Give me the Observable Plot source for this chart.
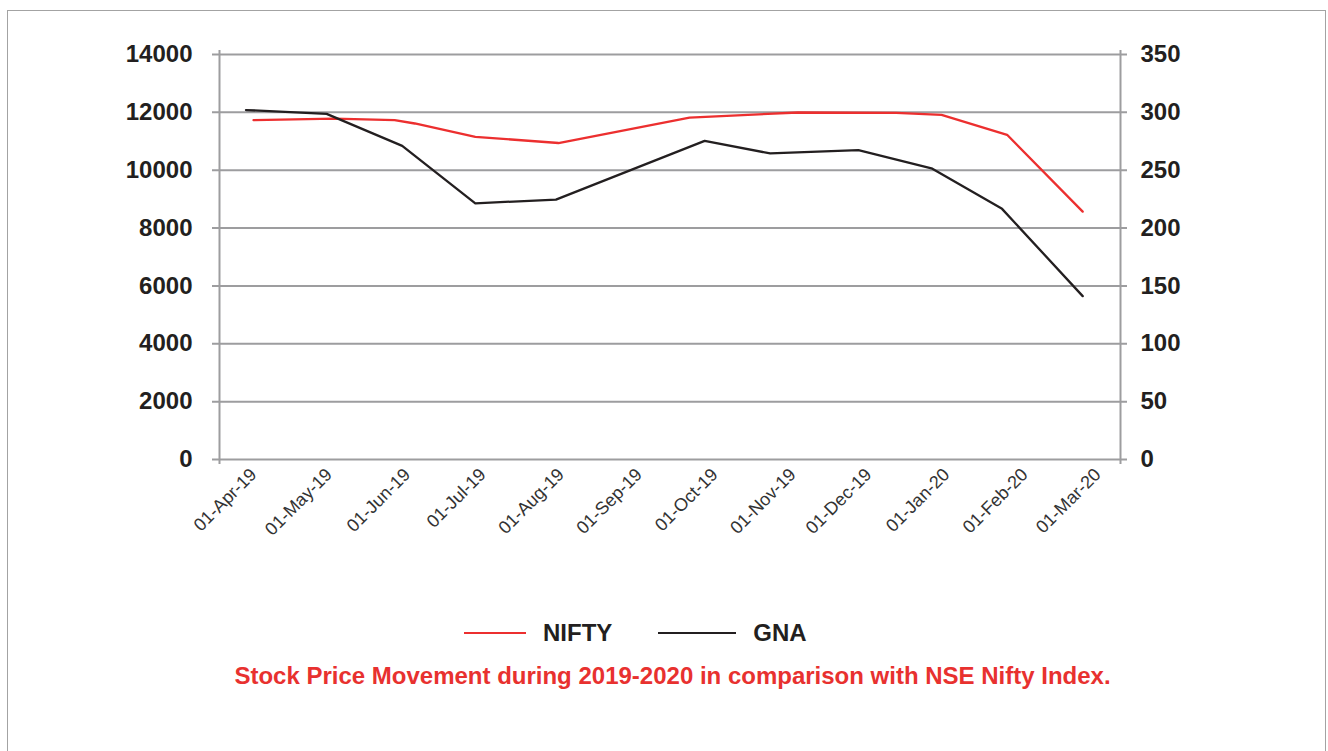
<!DOCTYPE html>
<html>
<head>
<meta charset="utf-8">
<script src="https://cdn.jsdelivr.net/npm/d3@7"></script>
<script src="https://cdn.jsdelivr.net/npm/@observablehq/plot@0.6"></script>
<style>
  html, body { margin: 0; padding: 0; background: #fff; }
  #wrap { position: relative; width: 1328px; height: 751px; overflow: hidden; background: #fff; font-family: "Liberation Sans", Arial, sans-serif; }
  #frame { position: absolute; left: 7px; top: 10px; width: 1319px; height: 800px; border: 1.5px solid #a3a3a3; box-sizing: border-box; }
  #chart { position: absolute; left: 0; top: 0; }
  #legend { position: absolute; left: 464px; top: 620px; height: 26px; display: flex; align-items: center; }
  .item { display: flex; align-items: center; }
  .swatch { height: 2.5px; }
  .lab { font-weight: bold; font-size: 24px; color: #231f20; }
  #caption { position: absolute; left: 0; width: 1345px; top: 662px; text-align: center; font-weight: bold; font-size: 24px; color: #e8312f; }
</style>
</head>
<body>
<div id="wrap">
  <div id="frame"></div>
  <div id="chart"></div>
  <div id="legend"></div>
  <div id="caption">Stock Price Movement during 2019-2020 in comparison with NSE Nifty Index.</div>
</div>
<script>
// ---- data ----
const niftyDates = ["2019-04-01","2019-05-03","2019-05-27","2019-06-04","2019-06-28","2019-07-31","2019-09-21","2019-11-03","2019-12-12","2019-12-30","2020-01-25","2020-02-24"];
const niftyValues = [11730, 11785, 11730, 11615, 11155, 10940, 11820, 11995, 11985, 11915, 11225, 8570];

const gnaDates = ["2019-03-29","2019-04-30","2019-05-30","2019-06-28","2019-07-30","2019-09-27","2019-10-23","2019-11-27","2019-12-26","2020-01-23","2020-02-24"];
const gnaValues = [302, 298.7, 271, 221.4, 224.6, 275.4, 264.5, 267.4, 251.6, 216.6, 141.2];

const monthTicks = ["2019-04-01","2019-05-01","2019-06-01","2019-07-01","2019-08-01","2019-09-01","2019-10-01","2019-11-01","2019-12-01","2020-01-01","2020-02-01","2020-03-01"];
const leftTicks = [0, 2000, 4000, 6000, 8000, 10000, 12000, 14000];
const rightTicks = [0, 50, 100, 150, 200, 250, 300, 350];

const seriesNames = ["NIFTY", "GNA"];
const seriesColors = ["#ec2f2f", "#231f20"];
const swatchWidths = [62, 78];

// ---- build ----
const ratio = 14000 / 350; // left units per right unit
const parse = d3.utcParse("%Y-%m-%d");
const nifty = niftyDates.map((d, i) => ({date: parse(d), value: niftyValues[i]}));
const gna = gnaDates.map((d, i) => ({date: parse(d), value: gnaValues[i]}));
const ticksX = monthTicks.map(parse);
const fmt = d3.utcFormat("%d-%b-%y");
const grey = "#9d9d9f";
const xStart = new Date(Date.UTC(2019, 2, 18, 12));
const xEnd = new Date(Date.UTC(2020, 2, 10));

const chart = Plot.plot({
  width: 1328,
  height: 560,
  marginLeft: 219,
  marginRight: 208,
  marginTop: 54,
  marginBottom: 101,
  style: {fontFamily: "'Liberation Sans', Arial, sans-serif", background: "transparent", overflow: "visible"},
  x: {type: "utc", domain: [xStart, xEnd], label: null},
  y: {domain: [0, 14000], label: null},
  marks: [
    Plot.ruleY(leftTicks, {stroke: grey, strokeWidth: 2, insetLeft: -7, insetRight: -7}),
    Plot.ruleX([xStart, xEnd], {stroke: grey, strokeWidth: 2, insetTop: -4, insetBottom: -5}),
    Plot.line(nifty, {x: "date", y: "value", stroke: seriesColors[0], strokeWidth: 2.3}),
    Plot.line(gna, {x: "date", y: d => d.value * ratio, stroke: seriesColors[1], strokeWidth: 2.3}),
    Plot.axisY(leftTicks, {anchor: "left", label: null, tickSize: 0, tickPadding: 27, tickFormat: d3.format("d"), fontSize: 24, fontWeight: "bold", fill: "#231f20"}),
    Plot.axisY(rightTicks.map(d => d * ratio), {anchor: "right", label: null, tickSize: 0, tickPadding: 20, tickFormat: d => d3.format("d")(d / ratio), fontSize: 24, fontWeight: "bold", fill: "#231f20"}),
    Plot.axisX(ticksX, {anchor: "bottom", label: null, tickSize: 0, tickPadding: 12, tickRotate: -45, tickFormat: fmt, fontSize: 18, fill: "#333", textAnchor: "end"})
  ]
});
document.getElementById("chart").appendChild(chart);

// legend
const legend = document.getElementById("legend");
seriesNames.forEach((name, i) => {
  const item = document.createElement("div");
  item.className = "item";
  item.style.marginRight = i === 0 ? "46px" : "0";
  const sw = document.createElement("div");
  sw.className = "swatch";
  sw.style.width = swatchWidths[i] + "px";
  sw.style.background = seriesColors[i];
  sw.style.marginRight = "17px";
  const lab = document.createElement("span");
  lab.className = "lab";
  lab.textContent = name;
  item.appendChild(sw);
  item.appendChild(lab);
  legend.appendChild(item);
});
</script>
</body>
</html>
